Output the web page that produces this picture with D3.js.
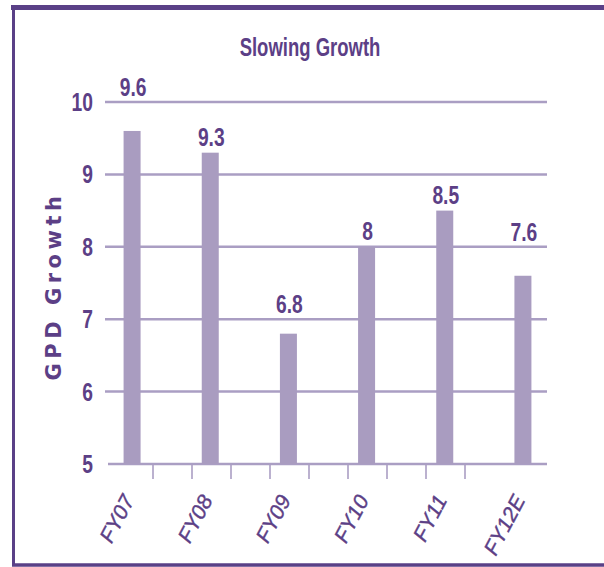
<!DOCTYPE html>
<html>
<head>
<meta charset="utf-8">
<script src="https://cdn.jsdelivr.net/npm/d3@7"></script>
<style>
  html, body { margin: 0; padding: 0; background: #fff; }
  svg { display: block; }
</style>
</head>
<body>
<svg id="chart" width="604" height="567"></svg>
<script>
// GDP growth by fiscal year
const years = ["FY07", "FY08", "FY09", "FY10", "FY11", "FY12E"];
const growth = [9.6, 9.3, 6.8, 8, 8.5, 7.6];
const yTicks = [5, 6, 7, 8, 9, 10];

const W = 604, H = 567;
const ink = "#5c3f86";
const barFill = "#a99cc0";
const gridStroke = "#aa9ec3";
const sans = "'Liberation Sans', Arial, sans-serif";
const squeeze = 0.74; // horizontal squeeze for the condensed face

const svg = d3.select("#chart");

// plot geometry
const plotLeft = 105, plotRight = 547;
const y = d3.scaleLinear().domain([5, 10]).range([464, 102]);
const x = d3.scalePoint().domain(years).range([93, 562]).padding(0.5);
const barW = 17;

// condensed bold text: positioned by a group, squeezed horizontally
function condensed(parent, tx, ty, str, size, anchor) {
  parent.append("g")
    .attr("transform", `translate(${tx},${ty}) scale(${squeeze},1)`)
    .append("text")
    .attr("text-anchor", anchor)
    .attr("font-family", sans).attr("font-weight", "bold")
    .attr("font-size", size).attr("fill", ink)
    .text(str);
}

// frame
svg.append("line").attr("x1", 11).attr("x2", W).attr("y1", 7.5).attr("y2", 7.5)
  .attr("stroke", "#5a4087").attr("stroke-width", 5);
svg.append("line").attr("x1", 13.5).attr("x2", 13.5).attr("y1", 7).attr("y2", 566)
  .attr("stroke", "#5a4087").attr("stroke-width", 3);
svg.append("line").attr("x1", 12).attr("x2", W).attr("y1", 565).attr("y2", 565)
  .attr("stroke", "#5a4087").attr("stroke-width", 3.5);

// title
condensed(svg, 310, 56, "Slowing Growth", 25, "middle");

// horizontal gridlines (the lowest one doubles as the baseline)
svg.append("g").selectAll("line").data(yTicks).join("line")
  .attr("x1", d => d === 5 ? 108 : plotLeft).attr("x2", plotRight)
  .attr("y1", d => y(d)).attr("y2", d => y(d))
  .attr("stroke", gridStroke).attr("stroke-width", 2.5);

// small tick marks under the baseline
const tickX = d3.range(1, 10).map(i => 114 + 39 * i);
svg.append("g").selectAll("line").data(tickX).join("line")
  .attr("x1", d => d).attr("x2", d => d)
  .attr("y1", y(5)).attr("y2", y(5) + 15)
  .attr("stroke", gridStroke).attr("stroke-width", 1.6);

// y tick labels
const yLab = svg.append("g");
yTicks.forEach(t => condensed(yLab, 93, y(t) + 9, t, 26, "end"));

// y axis title
svg.append("text")
  .attr("transform", "translate(61,286) rotate(-90)")
  .attr("text-anchor", "middle")
  .attr("font-family", "'DejaVu Sans', sans-serif").attr("font-weight", "bold")
  .attr("font-size", 21).attr("letter-spacing", 4.5).attr("fill", ink)
  .text("GPD Growth");

// bars
const rows = years.map((k, i) => ({ k, v: growth[i] }));
svg.append("g").selectAll("rect").data(rows).join("rect")
  .attr("x", d => x(d.k) - barW / 2).attr("width", barW)
  .attr("y", d => y(d.v)).attr("height", d => y(5) - y(d.v))
  .attr("fill", barFill);

// value labels: sit just above the bar, or hop above a gridline they would touch
function labelBaseline(v) {
  let base = y(v) - 7;
  for (const t of yTicks) {
    const gy = y(t);
    if (gy >= base - 22 && gy <= base + 6) base = gy - 6;
  }
  return base;
}
const vLab = svg.append("g");
rows.forEach(d => condensed(vLab, x(d.k) + 1, labelBaseline(d.v), d.v, 26, "middle"));

// category labels, rotated
svg.append("g").selectAll("text").data(years).join("text")
  .attr("transform", d => `translate(${x(d) + 3},500) rotate(-62)`)
  .attr("text-anchor", "end")
  .attr("font-family", sans).attr("font-style", "italic")
  .attr("font-size", 21).attr("fill", ink)
  .attr("stroke", ink).attr("stroke-width", 0.4)
  .text(d => d);
</script>
</body>
</html>
